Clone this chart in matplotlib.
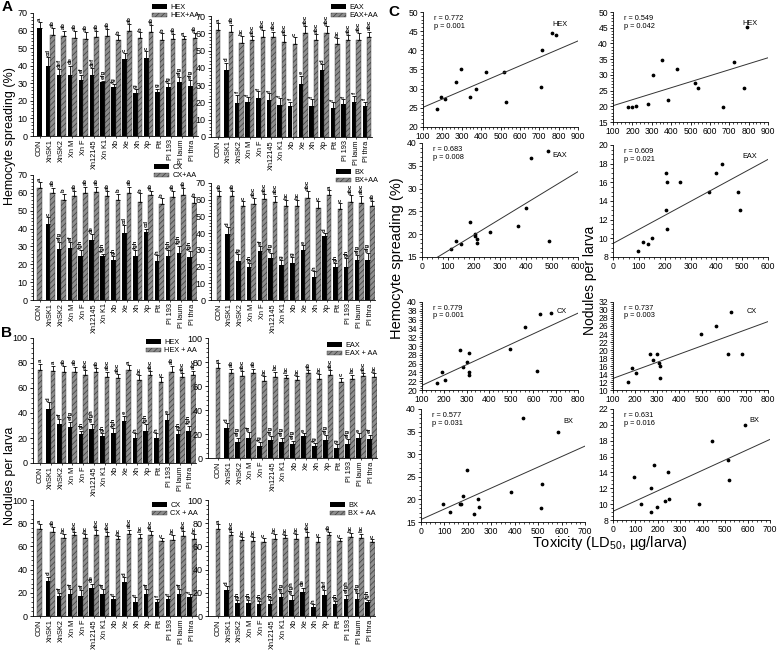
"""
Hemocyte spreading / nodule formation bar charts (A, B) and
correlation with toxicity (C).
Output: out.png
"""

import numpy as np
import matplotlib
matplotlib.use("Agg")
import matplotlib.pyplot as plt
from matplotlib.ticker import MultipleLocator, AutoMinorLocator
from matplotlib.patches import Patch

plt.rcParams["font.family"] = ["Liberation Sans", "DejaVu Sans"]
plt.rcParams["mathtext.fontset"] = "custom"
plt.rcParams["mathtext.rm"] = "Liberation Sans"
plt.rcParams["hatch.linewidth"] = 0.5
plt.rcParams["axes.linewidth"] = 0.6

W, H = 778, 651

STRAINS = ["CON", "XnSK1", "XnSK2", "Xn M", "Xn F", "Xn12145", "Xn K1", "Xb",
           "Xe", "Xh", "Xp", "Ptt", "Pl 193", "Pl laum", "Pl thra"]

# ---- A: hemocyte spreading (%) ----
HS_CON = [61.5, 62, 63, 62]
HS_CON_SD = [3.5, 4, 3, 3]
HS_CON_L = ["a", "a", "a", "ab"]

HS_HEX = [40, 34.5, 35, 32, 34.5, 30.5, 28, 44, 24.5, 44.5, 25, 28, 30.5, 28.5]
HS_HEX_SD = [5, 3.5, 5, 3, 4, 1, 1.5, 3, 2, 4, 2, 2, 3, 3.5]
HS_HEX_L = "cd def de ef def efg fg c g c g fg efg efg".split()
HS_HEX_AA = [57.5, 57, 55.5, 55, 56.5, 57, 54.5, 59.5, 56, 59, 54.5, 55, 55, 55.5]
HS_HEX_AA_SD = [4, 3, 4, 4, 3, 4, 3, 4, 3, 4, 4, 3, 2, 3]
HS_HEX_AA_L = "ab ab ab ab ab ab b ab b ab b ab a ab".split()

HS_EAX = [39, 19.5, 20, 22.5, 21.5, 18.5, 18, 30.5, 18, 38.5, 17, 19, 20, 18]
HS_EAX_SD = [4, 5, 3, 4, 4, 4, 2.5, 5, 4, 3.5, 3, 3, 4, 2.5]
HS_EAX_L = "d f f f f f f e f d f f f f".split()
HS_EAX_AA = [61, 54.5, 56, 58, 58, 55, 54, 60, 56, 60, 54, 56, 56, 58]
HS_EAX_AA_SD = [4, 4, 2.5, 4, 3, 4, 4, 4, 3.5, 4, 3, 3, 4, 3]
HS_EAX_AA_L = "ab bc abc abc abc abc c abc abc abc bc abc abc abc".split()

HS_CX = [42.5, 28.5, 29, 24.5, 33.5, 24.5, 22.5, 37.5, 24.5, 38, 22, 24.5, 26.5, 24]
HS_CX_SD = [4, 4, 3.5, 3.5, 3.5, 1.5, 2, 4.5, 3.5, 2, 3, 3.5, 4, 3.5]
HS_CX_L = "c efg ef fgh de fgh gh cd fgh cd h fgh fgh fgh".split()
HS_CX_AA = [60, 56, 58, 60, 60.5, 58, 56, 60, 55, 59, 54, 57.5, 59, 54.5]
HS_CX_AA_SD = [3, 3.5, 3, 3.5, 3, 3, 3.5, 3.5, 5, 2, 3, 3.5, 3.5, 3]
HS_CX_AA_L = "ab b ab ab ab ab b ab b ab b ab ab b".split()

HS_BX = [39.5, 23.5, 20, 29.5, 25, 21, 22, 30, 14, 38, 19.5, 20, 24, 24]
HS_BX_SD = [4, 4, 2, 3, 3, 3, 3.5, 3, 3.5, 2, 2.5, 5, 3, 4]
HS_BX_L = "d fg gh ef efg g g e h d gh gh efg efg".split()
HS_BX_AA = [62, 56.5, 57.5, 60.5, 58.5, 56, 56, 61, 55, 63, 54.5, 58.5, 58, 56]
HS_BX_AA_SD = [3, 2.5, 3.5, 3, 4, 4, 4, 4, 4, 3, 3.5, 4.5, 4.5, 3]
HS_BX_AA_L = "ab c abc abc abc bc bc abc c a c abc abc ab".split()

# ---- B: nodules per larva ----
NP_CON = [74.5, 75, 75, 75]
NP_CON_SD = [5, 4, 4.5, 4.5]
NP_CON_L = ["a", "a", "a", "a"]

NP_HEX = [43, 31, 29, 23, 27, 22, 24, 34, 20, 26, 20, 34.5, 23, 26]
NP_HEX_SD = [5.5, 4, 4, 3, 4.5, 2, 4, 4, 4, 5, 4, 4.5, 3.5, 4]
NP_HEX_L = "d ef efg gh efgh gh fgh e h fgh h e gh fgh".split()
NP_HEX_AA = [74, 73, 73, 70.5, 72.5, 69, 68, 74.5, 66.5, 70.5, 64.5, 73, 69, 70.5]
NP_HEX_AA_SD = [4, 4.5, 4, 4, 3.5, 4, 3, 4, 4, 3, 4, 5, 3, 3.5]
NP_HEX_AA_L = "a ab ab abc ab abc abc a bc abc c ab abc abc".split()

NP_EAX = [25, 13.5, 16.5, 10, 15, 13.5, 11.5, 18, 10, 15, 8.5, 12, 17, 16]
NP_EAX_SD = [4, 3.5, 5, 3.5, 3, 3.5, 3, 2.5, 2.5, 4, 3, 3.5, 4, 3.5]
NP_EAX_L = "d efg ef fg efg efg efg e fg efg g efg e ef".split()
NP_EAX_AA = [71, 68.5, 70.5, 64.5, 67.5, 66.5, 65, 70.5, 65.5, 69.5, 63, 66, 68.5, 67.5]
NP_EAX_AA_SD = [3.5, 4, 4, 3.5, 4.5, 3, 3, 2.5, 4.5, 4, 4, 3.5, 2.5, 3.5]
NP_EAX_AA_L = "ab abc ab bc bc bc bc ab bc abc c bc abc bc".split()

NP_CX = [30, 17, 19, 17.5, 24, 19, 14.5, 29.5, 12.5, 19, 12, 14.5, 19, 16]
NP_CX_SD = [4, 3, 4, 5, 4, 4, 2.5, 4, 4, 4, 3, 3, 4, 3]
NP_CX_L = "d ef ef ef de ef f d f ef f f ef f".split()
NP_CX_AA = [72.5, 67.5, 69.5, 67.5, 70, 69, 66, 70.5, 67, 69.5, 64.5, 65.5, 69, 66]
NP_CX_AA_SD = [4, 3, 2.5, 3, 4, 3, 3, 4, 4, 4, 3, 4, 4.5, 4.5]
NP_CX_AA_L = "ab bc abc bc abc abc bc abc bc abc c bc abc bc".split()

NP_BX = [22, 11, 11, 10, 10.5, 16, 14, 20.5, 8, 18, 10.5, 14.5, 15, 12]
NP_BX_SD = [3.5, 3, 3, 3, 3, 4, 4, 4, 2.5, 4.5, 2.5, 4, 5, 2]
NP_BX_L = "d gh gh gh gh efg efgh de h def gh efgh efg fgh".split()
NP_BX_AA = [69.5, 65.5, 65, 64, 66, 67, 66, 68.5, 64, 69.5, 64.5, 68, 67, 63.5]
NP_BX_AA_SD = [3, 2.5, 3, 3, 4.5, 3, 4.5, 4, 4, 3, 3, 3.5, 4, 3]
NP_BX_AA_L = "abc bc bc c bc bc bc abc c ab c bc bc c".split()

# ---- C: correlation with toxicity (LD50) ----
HEX_HS_X = [172, 193, 212, 272, 298, 341, 375, 427, 517, 530, 711, 714, 768, 785]
HEX_HS_Y = [24.8, 27.8, 27.3, 31.7, 35.0, 27.7, 30.0, 34.3, 34.3, 26.4, 30.4, 40.0, 44.4, 44.1]
HEX_NP_X = [177, 198, 220, 281, 307, 351, 382, 432, 523, 540, 668, 725, 775, 793]
HEX_NP_Y = [19.8, 19.8, 20.0, 20.8, 30.0, 34.7, 21.9, 32.0, 27.5, 25.9, 19.9, 34.0, 25.9, 45.2]

EAX_HS_X = [110, 130, 150, 185, 205, 205, 210, 210, 260, 370, 400, 420, 485, 490]
EAX_HS_Y = [16.7, 18.4, 17.8, 22.7, 20.0, 19.7, 19.0, 18.0, 20.4, 21.7, 25.7, 36.7, 38.3, 18.4]
EAX_NP_X = [95, 115, 135, 150, 205, 205, 210, 210, 260, 370, 400, 420, 485, 490]
EAX_NP_Y = [8.6, 9.6, 9.4, 10.0, 13.0, 17.0, 16.0, 11.0, 16.0, 15.0, 17.0, 18.0, 15.0, 13.0]

CX_HS_X = [167, 190, 205, 269, 283, 301, 310, 313, 313, 495, 562, 617, 629, 678]
CX_HS_Y = [21.7, 24.0, 22.3, 29.0, 25.3, 26.3, 28.3, 24.0, 23.3, 29.3, 34.3, 24.3, 37.3, 37.6]
CX_NP_X = [168, 187, 202, 269, 281, 300, 308, 314, 314, 499, 564, 621, 632, 681]
CX_NP_Y = [12.0, 15.5, 14.2, 19.0, 17.5, 19.0, 16.8, 16.0, 13.0, 24.0, 26.0, 19.0, 29.5, 19.0]

BX_HS_X = [92, 125, 165, 170, 180, 195, 228, 242, 248, 383, 437, 512, 517, 585]
BX_HS_Y = [19.0, 17.3, 19.0, 19.0, 20.7, 26.4, 16.7, 20.0, 18.3, 21.7, 38.0, 18.0, 23.3, 35.0]
BX_NP_X = [92, 127, 168, 171, 182, 197, 231, 246, 250, 384, 441, 514, 519, 587]
BX_NP_Y = [13.4, 10.0, 9.0, 12.0, 15.0, 9.6, 10.4, 14.0, 10.6, 10.0, 18.0, 15.6, 13.0, 20.0]

R_HS = ["0.772", "0.683", "0.779", "0.577"]
P_HS = ["0.001", "0.008", "0.001", "0.031"]
R_NP = ["0.549", "0.609", "0.737", "0.631"]
P_NP = ["0.042", "0.021", "0.003", "0.016"]

GRAY = "#8e8e8e"
HATCH = "#3c3c3c"

fig = plt.figure(figsize=(W / 100, H / 100), dpi=100)


def add_ax(x0, y0, x1, y1):
    return fig.add_axes([x0 / W, 1 - y1 / H, (x1 - x0) / W, (y1 - y0) / H])


def bar_panel(box, con, data, ymax, ystep, leg_xy, labels, con_black=False):
    x0, x_con, x_last, y_top, y_bot = box
    step = (x_last - x_con) / 14
    ax = add_ax(x0, y_top, x_last + 0.5 * step, y_bot)
    vals, sd, let, vals_aa, sd_aa, let_aa = data
    bw = 0.42
    off = 0.21
    x = np.arange(1, 15)

    if con_black:
        ax.bar(0, con[0], bw, color="black")
    else:
        ax.bar(0, con[0], bw, facecolor=GRAY, edgecolor=HATCH, hatch="//////", linewidth=0.3)
    ax.bar(x - off, vals, bw, color="black")
    ax.bar(x + off, vals_aa, bw, facecolor=GRAY, edgecolor=HATCH, hatch="//////", linewidth=0.3)

    xs = np.concatenate([[0], x - off, x + off])
    ys = np.concatenate([[con[0]], vals, vals_aa])
    es = np.concatenate([[con[1]], sd, sd_aa])
    ls = [con[2]] + list(let) + list(let_aa)
    ax.errorbar(xs, ys, yerr=[np.zeros_like(es), es], fmt="none", ecolor="black",
                elinewidth=0.6, capsize=1.2, capthick=0.6)
    for xi, yi, ei, li in zip(xs, ys, es, ls):
        ax.text(xi, yi + ei + ymax * 0.01, li, rotation=90, ha="center", va="bottom",
                fontsize=4.3, fontweight="bold")

    ax.set_xlim(-(x_con - x0) / step, 14.5)
    ax.set_ylim(0, ymax)
    ax.set_xticks(range(15))
    ax.set_xticklabels(STRAINS, rotation=90, fontsize=5.3)
    ax.yaxis.set_major_locator(MultipleLocator(ystep))
    ax.yaxis.set_minor_locator(AutoMinorLocator(5))
    ax.tick_params(axis="y", labelsize=6.5, length=2.5, width=0.6, pad=1.5)
    ax.tick_params(axis="y", which="minor", length=1.3, width=0.5)
    ax.tick_params(axis="x", length=1.5, width=0.5, pad=1.0)
    for s in ["top", "right"]:
        ax.spines[s].set_visible(False)

    handles = [Patch(facecolor="black"),
               Patch(facecolor=GRAY, edgecolor=HATCH, hatch="//////", linewidth=0.3)]
    ax.legend(handles, labels, loc="upper left",
              bbox_to_anchor=(leg_xy[0] / W, 1 - leg_xy[1] / H),
              bbox_transform=fig.transFigure, frameon=False, fontsize=5.3,
              handlelength=2.1, handleheight=0.6, labelspacing=0.2,
              borderpad=0, borderaxespad=0, handletextpad=0.4)
    return ax


def scatter_panel(rect, xs, ys, xlim, xstep, ylim, ystep, r, p, name, yminor=5):
    ax = add_ax(*rect)
    ax.plot(xs, ys, "o", ms=1.7, color="black")
    slope, inter = np.polyfit(xs, ys, 1)
    xx = np.array(xlim, dtype=float)
    ax.plot(xx, slope * xx + inter, color="#333333", lw=0.7)
    ax.set_xlim(*xlim)
    ax.set_ylim(*ylim)
    ax.xaxis.set_major_locator(MultipleLocator(xstep))
    ax.yaxis.set_major_locator(MultipleLocator(ystep))
    ax.xaxis.set_minor_locator(AutoMinorLocator(5))
    ax.yaxis.set_minor_locator(AutoMinorLocator(yminor))
    ax.tick_params(labelsize=6.2, length=2.3, width=0.6, pad=1.3)
    ax.tick_params(which="minor", length=1.2, width=0.5)
    for s in ["top", "right"]:
        ax.spines[s].set_visible(False)
    ax.text(0.07, 0.97, f"r = {r}\np = {p}", transform=ax.transAxes, va="top",
            fontsize=5.3, linespacing=1.05)
    ax.text(0.93, 0.88, name, transform=ax.transAxes, ha="right", fontsize=5.3)
    return ax


# panel A
bar_panel((33, 39.5, 192.5, 13, 136), (HS_CON[0], HS_CON_SD[0], HS_CON_L[0]),
          (HS_HEX, HS_HEX_SD, HS_HEX_L, HS_HEX_AA, HS_HEX_AA_SD, HS_HEX_AA_L),
          70, 10, (152, 4), ["HEX", "HEX+AA"], con_black=True)
bar_panel((211, 218, 367, 16, 137), (HS_CON[1], HS_CON_SD[1], HS_CON_L[1]),
          (HS_EAX, HS_EAX_SD, HS_EAX_L, HS_EAX_AA, HS_EAX_AA_SD, HS_EAX_AA_L),
          70, 10, (331, 4), ["EAX", "EAX+AA"])
bar_panel((33, 39.5, 192, 175, 300), (HS_CON[2], HS_CON_SD[2], HS_CON_L[2]),
          (HS_CX, HS_CX_SD, HS_CX_L, HS_CX_AA, HS_CX_AA_SD, HS_CX_AA_L),
          70, 10, (154, 164), ["CX", "CX+AA"])
bar_panel((211, 219, 370, 183, 300), (HS_CON[3], HS_CON_SD[3], HS_CON_L[3]),
          (HS_BX, HS_BX_SD, HS_BX_L, HS_BX_AA, HS_BX_AA_SD, HS_BX_AA_L),
          70, 10, (336, 169), ["BX", "BX+AA"])

# panel B
bar_panel((33, 40, 191, 338, 463), (NP_CON[0], NP_CON_SD[0], NP_CON_L[0]),
          (NP_HEX, NP_HEX_SD, NP_HEX_L, NP_HEX_AA, NP_HEX_AA_SD, NP_HEX_AA_L),
          100, 20, (146, 339), ["HEX", "HEX + AA"])
bar_panel((208, 218, 372, 338, 458), (NP_CON[1], NP_CON_SD[1], NP_CON_L[1]),
          (NP_EAX, NP_EAX_SD, NP_EAX_L, NP_EAX_AA, NP_EAX_AA_SD, NP_EAX_AA_L),
          100, 20, (327, 342), ["EAX", "EAX + AA"])
bar_panel((33, 39.5, 192, 500, 616), (NP_CON[2], NP_CON_SD[2], NP_CON_L[2]),
          (NP_CX, NP_CX_SD, NP_CX_L, NP_CX_AA, NP_CX_AA_SD, NP_CX_AA_L),
          100, 20, (152, 502), ["CX", "CX + AA"])
bar_panel((208, 218, 370, 500, 616), (NP_CON[3], NP_CON_SD[3], NP_CON_L[3]),
          (NP_BX, NP_BX_SD, NP_BX_L, NP_BX_AA, NP_BX_AA_SD, NP_BX_AA_L),
          100, 20, (330, 502), ["BX", "BX + AA"])

# panel C
scatter_panel((423, 12, 578, 127), HEX_HS_X, HEX_HS_Y, (100, 900), 100, (20, 50), 5,
              R_HS[0], P_HS[0], "HEX")
scatter_panel((613, 12, 768, 122), HEX_NP_X, HEX_NP_Y, (100, 900), 100, (15, 50), 5,
              R_NP[0], P_NP[0], "HEX")
scatter_panel((422, 143, 578, 257), EAX_HS_X, EAX_HS_Y, (0, 600), 100, (15, 40), 5,
              R_HS[1], P_HS[1], "EAX")
scatter_panel((613, 145, 768, 257), EAX_NP_X, EAX_NP_Y, (0, 600), 100, (8, 20), 2,
              R_NP[1], P_NP[1], "EAX", yminor=4)
scatter_panel((422, 302, 578, 390), CX_HS_X, CX_HS_Y, (100, 800), 100, (20, 40), 2,
              R_HS[2], P_HS[2], "CX", yminor=4)
scatter_panel((613, 302, 768, 390), CX_NP_X, CX_NP_Y, (100, 800), 100, (10, 32), 2,
              R_NP[2], P_NP[2], "CX", yminor=4)
scatter_panel((421, 409, 585, 522), BX_HS_X, BX_HS_Y, (0, 700), 100, (15, 40), 5,
              R_HS[3], P_HS[3], "BX")
scatter_panel((613, 409, 770, 520), BX_NP_X, BX_NP_Y, (0, 700), 100, (8, 22), 2,
              R_NP[3], P_NP[3], "BX", yminor=4)

# axis titles and panel letters
fig.text(10 / W, 1 - 136 / H, "Hemocyte spreading (%)", rotation=90, fontsize=9,
         ha="center", va="center")
fig.text(10 / W, 1 - 476 / H, "Nodules per larva", rotation=90, fontsize=9,
         ha="center", va="center")
fig.text(397 / W, 1 - 258 / H, "Hemocyte spreading (%)", rotation=90, fontsize=10.5,
         ha="center", va="center")
fig.text(590 / W, 1 - 280 / H, "Nodules per larva", rotation=90, fontsize=10,
         ha="center", va="center")
fig.text(610 / W, 1 - 543 / H, r"Toxicity (LD$_{50}$, µg/larva)", fontsize=10.5,
         ha="center", va="center")
fig.text(7 / W, 1 - 7 / H, "A", fontsize=11, fontweight="bold", ha="center", va="center")
fig.text(7 / W, 1 - 333 / H, "B", fontsize=11, fontweight="bold", ha="center", va="center")
fig.text(394 / W, 1 - 12 / H, "C", fontsize=11, fontweight="bold", ha="center", va="center")

fig.savefig("out.png", dpi=100)
plt.close(fig)
print("Saved figure: out.png")
